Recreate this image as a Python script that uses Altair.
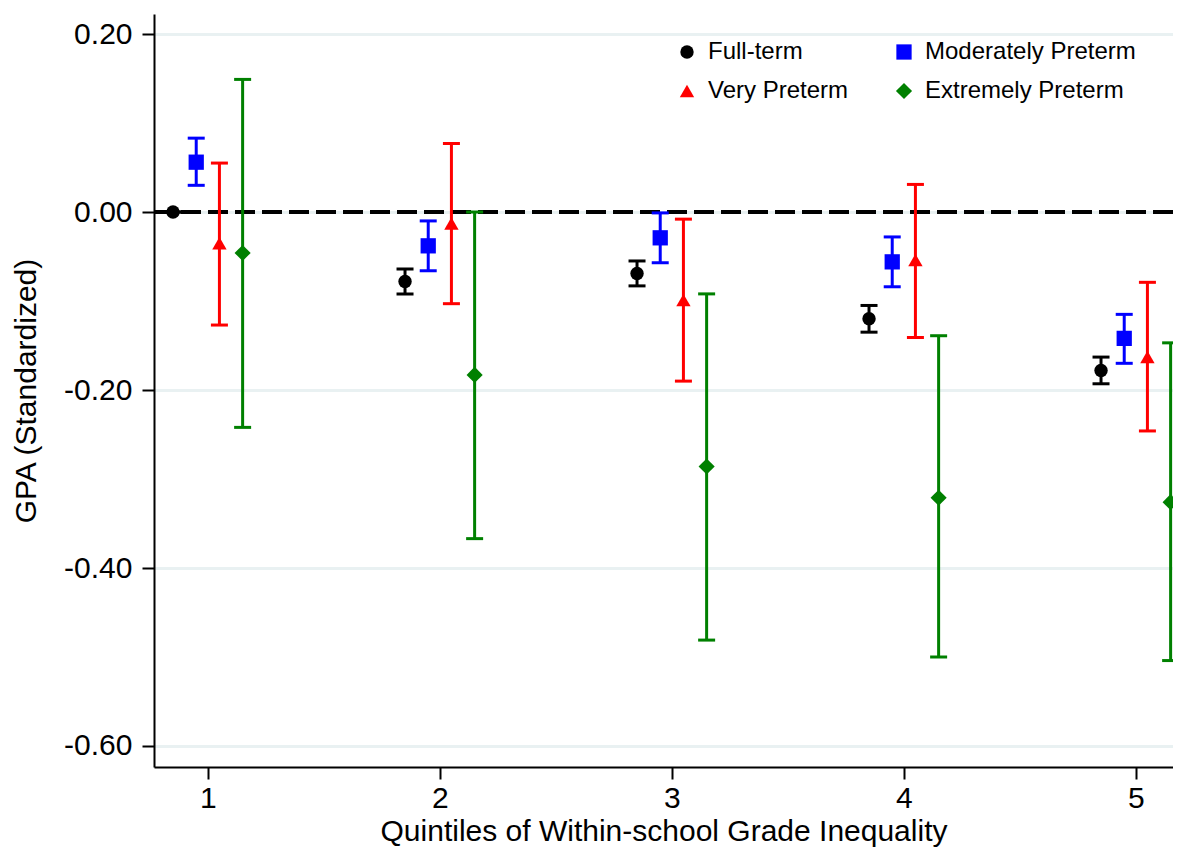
import altair as alt
import pandas as pd

quintiles = [1, 2, 3, 4, 5]
series_names = ["Full-term", "Moderately Preterm", "Very Preterm", "Extremely Preterm"]

ft_est = [0.000, -0.078, -0.069, -0.120, -0.178]
ft_lo = [0.000, -0.092, -0.083, -0.135, -0.193]
ft_hi = [0.000, -0.064, -0.055, -0.105, -0.163]

mp_est = [0.056, -0.038, -0.029, -0.056, -0.142]
mp_lo = [0.030, -0.066, -0.057, -0.084, -0.170]
mp_hi = [0.083, -0.010, -0.001, -0.028, -0.115]

vp_est = [-0.035, -0.013, -0.099, -0.054, -0.163]
vp_lo = [-0.127, -0.103, -0.190, -0.141, -0.246]
vp_hi = [0.055, 0.077, -0.008, 0.031, -0.079]

ep_est = [-0.046, -0.183, -0.286, -0.321, -0.326]
ep_lo = [-0.242, -0.367, -0.481, -0.500, -0.504]
ep_hi = [0.149, 0.000, -0.092, -0.139, -0.147]

colors = ["#000000", "#0000ff", "#ff0000", "#008000"]
shapes = ["circle", "square", "triangle-up", "diamond"]
marker_sizes = [180, 150, 260, 300]
offsets = [-0.15, -0.05, 0.05, 0.15]

# legend is laid out column by column: (Full-term, Very Preterm) | (Moderately, Extremely)
legend_order = [0, 2, 1, 3]
leg_domain = [series_names[i] for i in legend_order]
leg_colors = [colors[i] for i in legend_order]
leg_shapes = [shapes[i] for i in legend_order]
leg_sizes = [marker_sizes[i] for i in legend_order]

rows = []
for name, col, off, est, lo, hi in zip(series_names, colors, offsets,
                                       [ft_est, mp_est, vp_est, ep_est],
                                       [ft_lo, mp_lo, vp_lo, ep_lo],
                                       [ft_hi, mp_hi, vp_hi, ep_hi]):
    for q, e, l, h in zip(quintiles, est, lo, hi):
        rows.append({"series": name, "col": col, "q": q, "xpos": q + off,
                     "est": e, "lo": l, "hi": h})
df = pd.DataFrame(rows)

FONT = "Liberation Sans"
PLOT_W = 1019
PX_PER_UNIT = 232

x_enc = alt.X(
    "xpos:Q",
    scale=alt.Scale(domain=[0.768, 0.768 + PLOT_W / PX_PER_UNIT], nice=False, zero=False),
    axis=alt.Axis(values=quintiles, format="d", grid=False,
                  title="Quintiles of Within-school Grade Inequality",
                  labelPadding=4, titlePadding=3),
)
y_scale = alt.Scale(domain=[-0.6236, 0.2225], nice=False, zero=False)
y_axis = alt.Axis(values=[0.2, 0.0, -0.2, -0.4, -0.6],
                  labelExpr="(datum.value < -0.0001 ? '-' : '') + format(abs(datum.value), '.2f')",
                  title="GPA (Standardized)", grid=True, labelPadding=10, titlePadding=22)

legend = alt.Legend(title=None, orient="none", legendX=521, legendY=26, columns=2,
                    labelFontSize=24, labelFont=FONT, labelColor="black", labelLimit=400,
                    labelOffset=9, columnPadding=43, rowPadding=15,
                    padding=0, symbolOpacity=1, symbolStrokeWidth=0)

color_leg = alt.Color("series:N", scale=alt.Scale(domain=leg_domain, range=leg_colors), legend=legend)
shape_leg = alt.Shape("series:N", scale=alt.Scale(domain=leg_domain, range=leg_shapes), legend=legend)
size_leg = alt.Size("series:N", scale=alt.Scale(domain=leg_domain, range=leg_sizes), legend=legend)

base = alt.Chart(df)

zero_line = base.mark_rule(color="black", strokeWidth=3.5, strokeDash=[20, 7]).encode(
    y=alt.datum(0, scale=y_scale, axis=y_axis)
)

bars = base.mark_rule(strokeWidth=3, opacity=1).encode(
    x=x_enc,
    y=alt.Y("lo:Q", scale=y_scale, axis=y_axis),
    y2="hi:Q",
    stroke=alt.Stroke("col:N", scale=None),
)

cap_lo = base.mark_tick(orient="horizontal", size=17, thickness=3, opacity=1).encode(
    x=x_enc, y=alt.Y("lo:Q", scale=y_scale, axis=y_axis),
    fill=alt.Fill("col:N", scale=None),
)
cap_hi = base.mark_tick(orient="horizontal", size=17, thickness=3, opacity=1).encode(
    x=x_enc, y=alt.Y("hi:Q", scale=y_scale, axis=y_axis),
    fill=alt.Fill("col:N", scale=None),
)

points = base.mark_point(filled=True, opacity=1).encode(
    x=x_enc,
    y=alt.Y("est:Q", scale=y_scale, axis=y_axis),
    color=color_leg,
    shape=shape_leg,
    size=size_leg,
)

chart = alt.layer(zero_line, bars, cap_lo, cap_hi, points).properties(
    width=PLOT_W, height=753,
    autosize=alt.AutoSizeParams(type="none"),
    padding={"left": 146, "top": 6, "right": 0, "bottom": 80},
).configure_view(stroke=None).configure_axis(
    domainColor="black", domainWidth=2, tickColor="black", tickWidth=2, tickSize=12,
    labelFont=FONT, labelFontSize=30, labelColor="black",
    titleFont=FONT, titleFontSize=30, titleFontWeight="normal", titleColor="black",
    gridColor="#e9f1f2", gridWidth=3,
)

chart.save("out.html", embed_options={"renderer": "svg", "actions": False})
